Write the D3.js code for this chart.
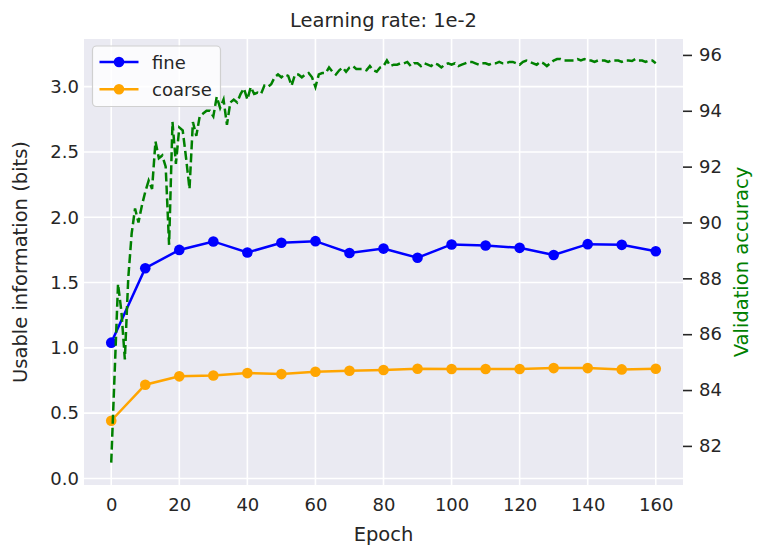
<!DOCTYPE html>
<html lang="en">
<head>
    <meta charset="UTF-8">
    <title>Learning rate: 1e-2</title>
    <script src="https://d3js.org/d3.v7.min.js"></script>
    <style>
        body { margin: 0; background: #fff; }
        text { font-family: "DejaVu Sans", sans-serif; fill: #262626; }
    </style>
</head>
<body>
<script>
    // chart data
    const epochs = [0, 10, 20, 30, 40, 50, 60, 70, 80, 90, 100, 110, 120, 130, 140, 150, 160]
    const fine = [1.04, 1.61, 1.75, 1.815, 1.73, 1.805, 1.817, 1.726, 1.76, 1.69, 1.792, 1.784, 1.766, 1.711, 1.794, 1.789, 1.74]
    const coarse = [0.442, 0.718, 0.782, 0.789, 0.807, 0.799, 0.817, 0.825, 0.83, 0.84, 0.838, 0.838, 0.838, 0.845, 0.845, 0.835, 0.84]
    // validation accuracy, one value per epoch 0..160
    const valAcc = [
        81.4, 84.6, 87.8, 86.8, 85.1, 88.0, 89.6, 90.5, 90.0, 90.6,
        91.1, 91.5, 91.2, 92.9, 92.3, 92.4, 92.0, 89.2, 93.6, 92.1,
        93.4, 93.3, 92.3, 91.2, 93.6, 93.1, 93.8, 93.9, 94.0, 94.0,
        93.8, 94.5, 94.1, 94.4, 93.5, 94.3, 94.4, 94.3, 94.6, 94.8,
        94.4, 94.85, 94.6, 94.65, 94.6, 94.9, 94.85, 94.95, 95.2, 95.3,
        95.2, 95.3, 95.25, 94.9, 95.3, 95.3, 95.2, 95.3, 95.35, 95.2,
        94.85, 95.3, 95.35, 95.35, 95.55, 95.4, 95.3, 95.45, 95.55, 95.4,
        95.55, 95.6, 95.5, 95.5, 95.5, 95.45, 95.6, 95.45, 95.4, 95.55,
        95.6, 95.8, 95.6, 95.65, 95.65, 95.7, 95.7, 95.75, 95.6, 95.7,
        95.7, 95.6, 95.7, 95.65, 95.6, 95.7, 95.65, 95.55, 95.65, 95.7,
        95.65, 95.7, 95.6, 95.65, 95.7, 95.75, 95.75, 95.7, 95.65, 95.7,
        95.7, 95.65, 95.7, 95.7, 95.75, 95.7, 95.7, 95.75, 95.75, 95.7,
        95.65, 95.75, 95.8, 95.75, 95.7, 95.65, 95.75, 95.7, 95.6, 95.7,
        95.8, 95.85, 95.85, 95.8, 95.8, 95.8, 95.8, 95.85, 95.8, 95.85,
        95.8, 95.8, 95.75, 95.8, 95.8, 95.8, 95.75, 95.8, 95.8, 95.8,
        95.75, 95.8, 95.8, 95.78, 95.85, 95.8, 95.8, 95.75, 95.8, 95.8,
        95.7
    ]
    const xTicks = [0, 20, 40, 60, 80, 100, 120, 140, 160]
    const yLeftTicks = [0.0, 0.5, 1.0, 1.5, 2.0, 2.5, 3.0]
    const yRightTicks = [82, 84, 86, 88, 90, 92, 94, 96]

    const width = 762
    const height = 557
    const pLeft = 84, pRight = 683, pTop = 39, pBottom = 485

    let svg = d3.select("body").append("svg")
        .attr("width", width)
        .attr("height", height)

    const x = d3.scaleLinear().domain([-8, 168]).range([pLeft, pRight])
    const yL = d3.scaleLinear().domain([-0.05, 3.365]).range([pBottom, pTop])
    const yR = d3.scaleLinear().domain([80.6, 96.57]).range([pBottom, pTop])

    svg.append("rect")
        .attr("x", pLeft).attr("y", pTop)
        .attr("width", pRight - pLeft).attr("height", pBottom - pTop)
        .attr("fill", "#eaeaf2")

    // grid
    svg.append("g").selectAll("line")
        .data(xTicks).enter().append("line")
        .attr("x1", d => x(d)).attr("x2", d => x(d))
        .attr("y1", pTop).attr("y2", pBottom)
        .attr("stroke", "white").attr("stroke-width", 1.6)
    svg.append("g").selectAll("line")
        .data(yLeftTicks).enter().append("line")
        .attr("x1", pLeft).attr("x2", pRight)
        .attr("y1", d => yL(d)).attr("y2", d => yL(d))
        .attr("stroke", "white").attr("stroke-width", 1.6)

    // axes (labels only, darkgrid style)
    let xAxis = svg.append("g")
        .attr("transform", `translate(0,${pBottom})`)
        .call(d3.axisBottom(x).tickValues(xTicks).tickSize(0).tickPadding(13).tickFormat(d3.format("d")))
    let yAxisL = svg.append("g")
        .attr("transform", `translate(${pLeft},0)`)
        .call(d3.axisLeft(yL).tickValues(yLeftTicks).tickSize(0).tickPadding(5).tickFormat(d3.format(".1f")))
    let yAxisR = svg.append("g")
        .attr("transform", `translate(${pRight},0)`)
        .call(d3.axisRight(yR).tickValues(yRightTicks).tickSize(9).tickPadding(7).tickFormat(d3.format("d")))
    ;[xAxis, yAxisL, yAxisR].forEach(a => {
        a.select(".domain").remove()
        a.selectAll("text").attr("font-size", 18).attr("fill", "#262626")
            .attr("font-family", "DejaVu Sans, sans-serif")
    })
    yAxisR.selectAll("line").attr("stroke", "#262626").attr("stroke-width", 1.6)

    // series
    const lineL = (vals) => d3.line().x((d, i) => x(epochs[i])).y(d => yL(d))(vals)
    const series = [
        {name: "fine", vals: fine, color: "blue"},
        {name: "coarse", vals: coarse, color: "orange"}
    ]
    series.forEach(s => {
        svg.append("path")
            .attr("d", lineL(s.vals))
            .attr("fill", "none").attr("stroke", s.color).attr("stroke-width", 2.5)
        svg.append("g").selectAll("circle")
            .data(s.vals).enter().append("circle")
            .attr("cx", (d, i) => x(epochs[i]))
            .attr("cy", d => yL(d))
            .attr("r", 5.3)
            .attr("fill", s.color)
    })

    // legend
    let legend = svg.append("g")
    legend.append("rect")
        .attr("x", 92.5).attr("y", 46).attr("width", 128).attr("height", 60.5)
        .attr("rx", 4).attr("fill", "rgba(255,255,255,0.8)")
        .attr("stroke", "#d0d0d0").attr("stroke-width", 1.2)
    series.forEach((s, i) => {
        const ly = 62 + i * 27.3
        legend.append("line")
            .attr("x1", 99.5).attr("x2", 138.5).attr("y1", ly).attr("y2", ly)
            .attr("stroke", s.color).attr("stroke-width", 2.5)
        legend.append("circle").attr("cx", 119).attr("cy", ly).attr("r", 5.3).attr("fill", s.color)
        legend.append("text").attr("x", 152).attr("y", ly + 6.5)
            .attr("font-size", 18).text(s.name)
    })

    // validation accuracy on twin axis
    svg.append("path")
        .attr("d", d3.line().x((d, i) => x(i)).y(d => yR(d))(valAcc))
        .attr("fill", "none").attr("stroke", "green").attr("stroke-width", 2.5)
        .attr("stroke-dasharray", "9,4")

    // labels
    svg.append("text").attr("x", (pLeft + pRight) / 2).attr("y", 27)
        .attr("text-anchor", "middle").attr("font-size", 19.5)
        .text("Learning rate: 1e-2")
    svg.append("text").attr("x", (pLeft + pRight) / 2).attr("y", 541)
        .attr("text-anchor", "middle").attr("font-size", 19.5)
        .text("Epoch")
    svg.append("text")
        .attr("transform", `translate(27,${(pTop + pBottom) / 2}) rotate(-90)`)
        .attr("text-anchor", "middle").attr("font-size", 19.5)
        .text("Usable information (bits)")
    svg.append("text")
        .attr("transform", `translate(748,${(pTop + pBottom) / 2}) rotate(-90)`)
        .attr("text-anchor", "middle").attr("font-size", 19.5)
        .style("fill", "green")
        .text("Validation accuracy")
</script>
</body>
</html>
